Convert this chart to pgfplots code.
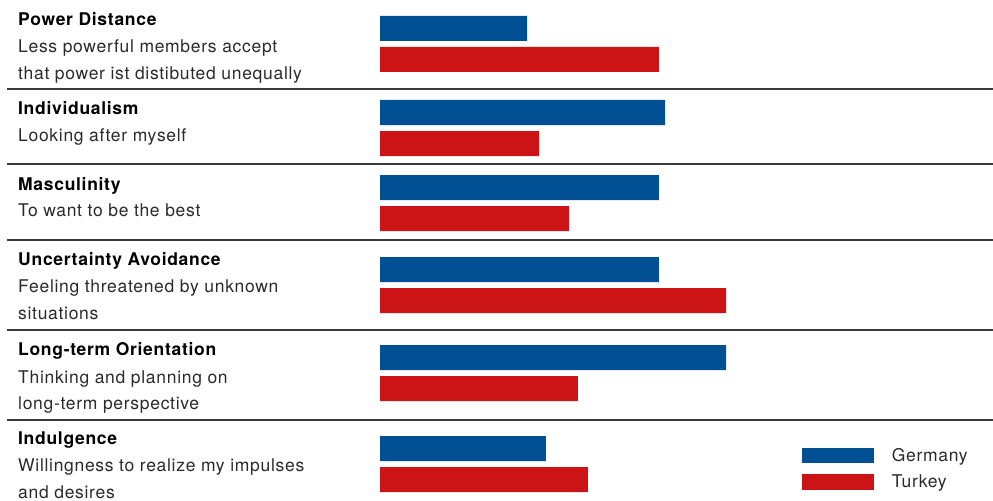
\documentclass[border=0pt]{standalone}
\usepackage{pgfplots}
\pgfplotsset{compat=1.18}
\usepackage{fontspec}
\setmainfont{TeX Gyre Heros}[LetterSpace=4]
\definecolor{gblue}{HTML}{005093}
\definecolor{tred}{HTML}{CC1417}
\definecolor{sepgray}{HTML}{3A3A3A}
\definecolor{desc}{HTML}{2A2A2A}
% y = pixel row of bar centre, x = score
\pgfplotstableread{
y x
28.5 35.0
112.5 67.9
187.5 66.4
269.5 66.4
357.5 82.4
448.5 39.5
}\germany
\pgfplotstableread{
y x
59.5 66.4
143.5 37.9
218.5 45.0
300.5 82.4
388.5 47.1
479.5 49.5
}\turkey
\begin{document}
\begin{tikzpicture}
\useasboundingbox (0,0) rectangle (993bp,501bp);
\begin{axis}[
  at={(0,0)}, anchor=south west,
  scale only axis, width=993bp, height=501bp,
  xmin=-90.476, xmax=145.952,
  ymin=0, ymax=501, y dir=reverse,
  hide axis, clip=false,
  xbar, bar width=25bp, bar shift=0pt,
  legend style={at={(802/993,1-447.5/501)}, anchor=north west, draw=none,
    fill=none, inner sep=0pt, row sep=11bp,
    nodes={inner sep=0pt},
    font=\fontsize{17.5bp}{18bp}\selectfont\color{desc},
    /tikz/every odd column/.append style={column sep=17.7bp}},
  legend cell align=left,
  legend image code/.code={\fill[#1,draw=none] (0bp,-7.8bp) rectangle (72bp,7.8bp);},
]
\addplot[fill=gblue, draw=none] table[x=x,y=y] {\germany};
\addlegendentry{Germany}
\addplot[fill=tred, draw=none] table[x=x,y=y] {\turkey};
\addlegendentry{Turkey}
\end{axis}
\begin{scope}[x=1bp,y=-1bp,yshift=501bp]
\foreach \yy in {89,164,240,330,420}{
  \draw[sepgray,line width=1.5bp] (7,\yy) -- (993,\yy);
}
\tikzset{tt/.style={anchor=base west,inner sep=0pt,font=\fontsize{17.5bp}{18bp}\selectfont\bfseries},
         dd/.style={anchor=base west,inner sep=0pt,text=desc,font=\fontsize{17.5bp}{18bp}\selectfont}}
\node[tt] at (18,25.7) {Power Distance};
\node[dd] at (18,52.7) {Less powerful members accept};
\node[dd] at (18,79.3) {that power ist distibuted unequally};
\node[tt] at (18,115) {Individualism};
\node[dd] at (18,141.7) {Looking after myself};
\node[tt] at (18,190.7) {Masculinity};
\node[dd] at (18,216.7) {To want to be the best};
\node[tt] at (18,266) {Uncertainty Avoidance};
\node[dd] at (18,292.7) {Feeling threatened by unknown};
\node[dd] at (18,319.3) {situations};
\node[tt] at (18,356) {Long-term Orientation};
\node[dd] at (18,383.3) {Thinking and planning on};
\node[dd] at (18,410) {long-term perspective};
\node[tt] at (18,445) {Indulgence};
\node[dd] at (18,471.7) {Willingness to realize my impulses};
\node[dd] at (18,498.3) {and desires};
\end{scope}
\end{tikzpicture}
\end{document}
